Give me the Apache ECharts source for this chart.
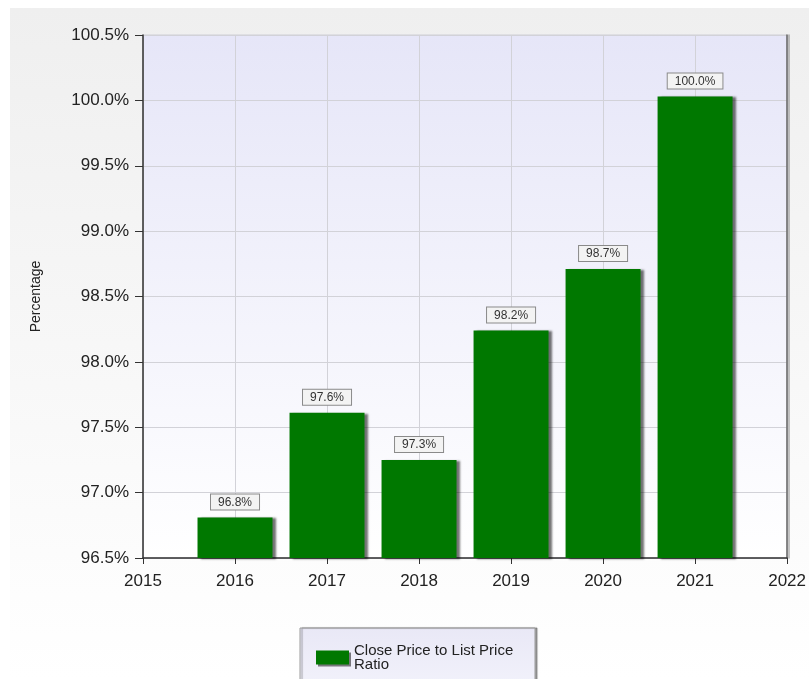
<!DOCTYPE html>
<html>
<head>
<meta charset="utf-8">
<script src="https://cdn.jsdelivr.net/npm/echarts@6/dist/echarts.min.js"></script>
<style>
  html, body { margin: 0; padding: 0; background: #ffffff; }
  #chart { width: 809px; height: 679px; }
</style>
</head>
<body>
<div id="chart"></div>
<script>
// Close price to list price ratio by year
const years = [2016, 2017, 2018, 2019, 2020, 2021];
const ratioValues = [96.81, 97.61, 97.25, 98.24, 98.71, 100.03];
const seriesName = 'Close Price to List Price Ratio';
const yTicks = { min: 96.5, max: 100.5, step: 0.5 };
const xTicks = { min: 2015, max: 2022, step: 1 };

const FONT = '"Liberation Sans", Arial, sans-serif';
const chart = echarts.init(document.getElementById('chart'), null, { renderer: 'canvas' });

const barData = years.map((y, i) => [y, ratioValues[i]]);

chart.setOption({
  animation: false,
  backgroundColor: '#ffffff',
  graphic: [
    {
      type: 'rect', z: -10, silent: true,
      shape: { x: 10, y: 8, width: 799, height: 671 },
      style: {
        fill: { type: 'linear', x: 0, y: 0, x2: 0, y2: 1,
          colorStops: [{ offset: 0, color: '#efefef' }, { offset: 1, color: '#ffffff' }] }
      }
    },
    {
      type: 'rect', z: 0, silent: true,
      shape: { x: 300, y: 628, width: 235, height: 60 },
      style: {
        fill: { type: 'linear', x: 0, y: 0, x2: 0, y2: 1,
          colorStops: [{ offset: 0, color: '#e9e8f6' }, { offset: 1, color: '#f2f2fb' }] },
        stroke: '#9a9a9a', lineWidth: 1,
        shadowColor: 'rgba(0,0,0,0.35)', shadowOffsetX: 2, shadowOffsetY: 0, shadowBlur: 1
      }
    }
  ],
  grid: {
    left: 143, top: 35, right: 19, bottom: 121,
    show: true,
    borderColor: '#cfcfd6', borderWidth: 1,
    backgroundColor: { type: 'linear', x: 0, y: 0, x2: 0, y2: 1,
      colorStops: [{ offset: 0, color: '#e6e6f8' }, { offset: 1, color: '#ffffff' }] }
  },
  legend: {
    left: 311, top: 638,
    itemWidth: 33, itemHeight: 14, itemGap: 6,
    icon: 'rect',
    data: [{ name: seriesName, itemStyle: { color: '#007800', shadowColor: 'rgba(0,0,0,0.5)', shadowOffsetX: 2, shadowOffsetY: 2 } }],
    formatter: () => 'Close Price to List Price\nRatio',
    textStyle: { fontFamily: FONT, fontSize: 15, color: '#222', lineHeight: 14 }
  },
  xAxis: {
    type: 'value',
    min: xTicks.min, max: xTicks.max, interval: xTicks.step,
    axisLine: { show: true, onZero: false, lineStyle: { color: '#333', width: 1.5 } },
    axisTick: { show: true, length: 6, lineStyle: { color: '#333' } },
    axisLabel: { fontFamily: FONT, fontSize: 17, color: '#222', margin: 15, formatter: v => String(v) },
    splitLine: { show: true, lineStyle: { color: '#d2d2d8', width: 1 } }
  },
  yAxis: [
    {
      type: 'value',
      min: yTicks.min, max: yTicks.max, interval: yTicks.step,
      name: 'Percentage', nameLocation: 'middle', nameRotate: 90, nameGap: 100,
      nameTextStyle: { fontFamily: FONT, fontSize: 14, color: '#222' },
      axisLine: { show: true, lineStyle: { color: '#333', width: 1.5 } },
      axisTick: { show: true, length: 8, lineStyle: { color: '#333' } },
      axisLabel: { fontFamily: FONT, fontSize: 17, color: '#222', margin: 14, formatter: v => v.toFixed(1) + '%' },
      splitLine: { show: true, lineStyle: { color: '#d2d2d8', width: 1 } }
    },
    {
      type: 'value', position: 'right',
      min: yTicks.min, max: yTicks.max, interval: yTicks.step,
      axisLine: { show: true, lineStyle: { color: '#666', width: 1.5, shadowColor: 'rgba(0,0,0,0.3)', shadowOffsetX: 2 } },
      axisTick: { show: false }, axisLabel: { show: false }, splitLine: { show: false }
    }
  ],
  series: [{
    name: seriesName,
    type: 'bar',
    yAxisIndex: 0,
    data: barData,
    barWidth: 75,
    itemStyle: {
      color: '#007800',
      shadowColor: 'rgba(0,0,0,0.55)', shadowOffsetX: 3, shadowOffsetY: 1, shadowBlur: 2
    },
    label: {
      show: true, position: 'top', distance: 8,
      formatter: p => p.value[1].toFixed(1) + '%',
      fontFamily: FONT, fontSize: 12, color: '#333',
      backgroundColor: '#f3f3f3', borderColor: '#8a8a8a', borderWidth: 1,
      padding: [2, 7, 1, 7]
    }
  }]
});
</script>
</body>
</html>
